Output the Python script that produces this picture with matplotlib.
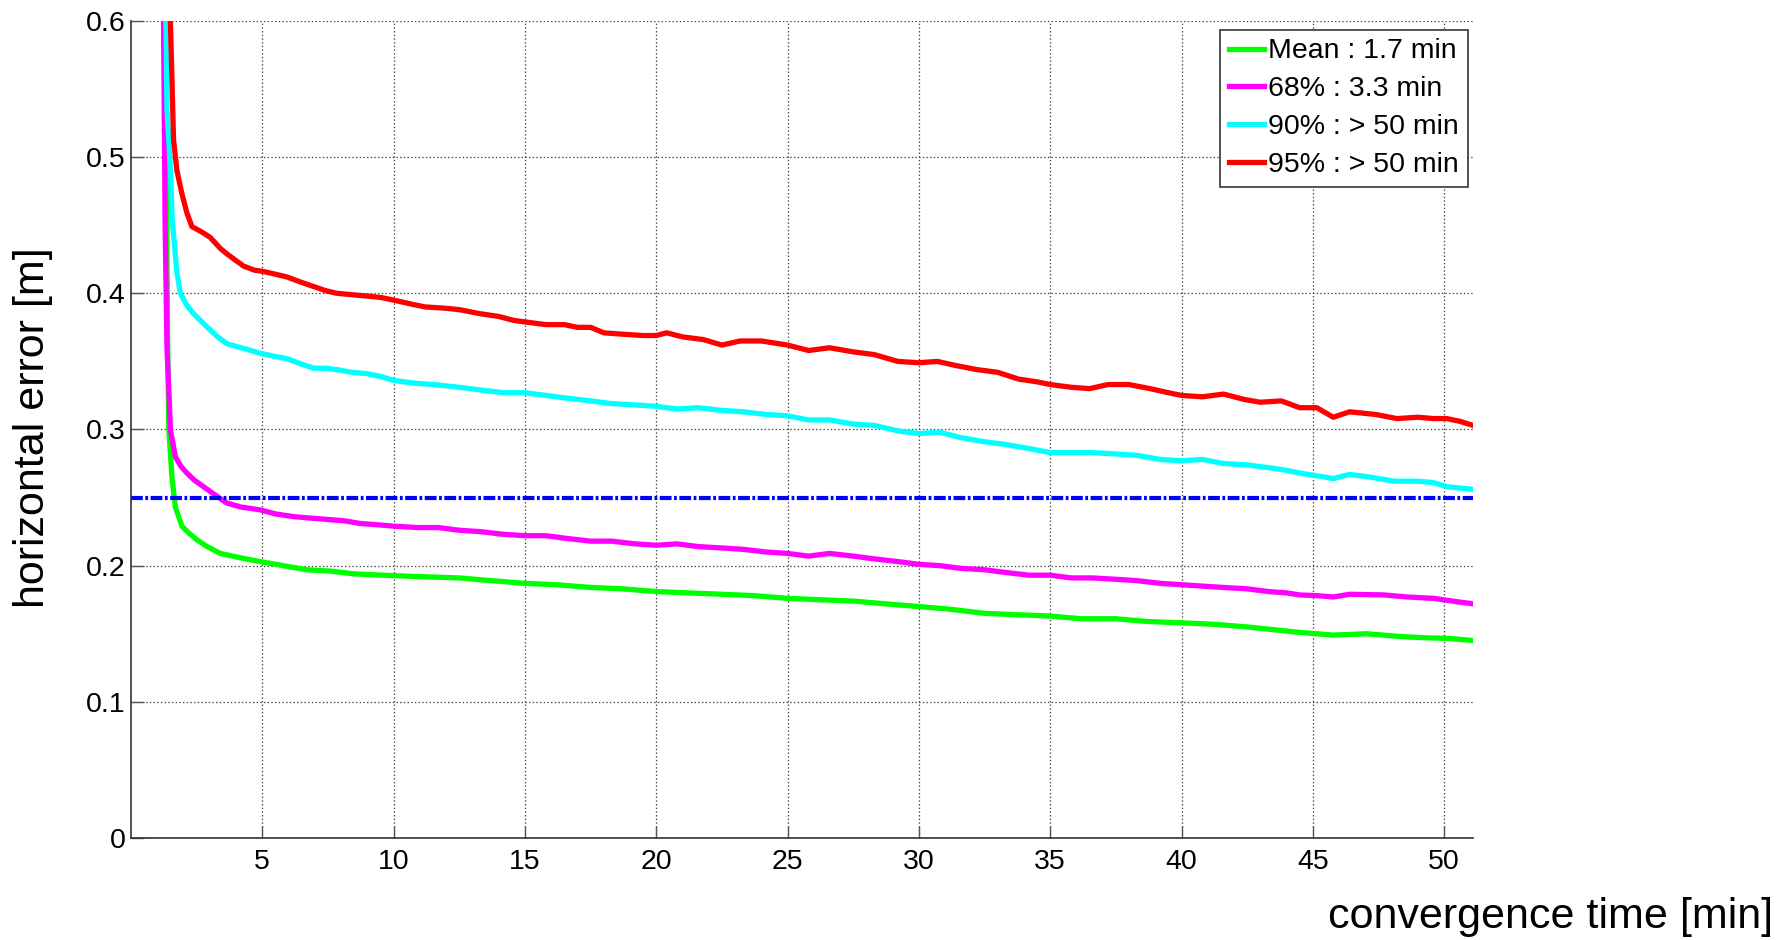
import numpy as np
import matplotlib
matplotlib.use("Agg")
import matplotlib.pyplot as plt

plt.rcParams['font.family'] = ['Liberation Sans', 'DejaVu Sans']
plt.rcParams['lines.scale_dashes'] = False

# convergence curves, horizontal error [m] vs time [min]
t_red = [1.40, 1.50, 1.62, 1.75, 1.94, 2.13, 2.32, 2.7, 3.02, 3.4, 3.65, 4.0, 4.29, 4.7, 5.05, 5.5,
         5.94, 6.5, 6.95, 7.4, 7.84, 8.4, 8.98, 9.5, 10.0, 10.7, 11.2, 12.0, 12.5, 13.3, 14.0, 14.6,
         15.0, 15.8, 16.5, 17.0, 17.5, 18.0, 18.7, 19.5, 20.0, 20.4, 21.0, 21.8, 22.5, 23.2, 24.0,
         25.0, 25.8, 26.6, 27.5, 28.3, 29.2, 30.0, 30.7, 31.4, 32.2, 33.0, 33.8, 34.5, 35.0, 35.8,
         36.5, 37.2, 38.0, 38.8, 39.5, 40.0, 40.8, 41.6, 42.4, 43.0, 43.8, 44.5, 45.15, 45.78, 46.4,
         47.4, 48.2, 49.0, 49.6, 50.1, 50.6, 51.1]
e_red = [0.72, 0.60, 0.513, 0.49, 0.473, 0.459, 0.449, 0.445, 0.441, 0.433, 0.429, 0.424, 0.420,
         0.417, 0.416, 0.414, 0.412, 0.408, 0.405, 0.402, 0.400, 0.399, 0.398, 0.397, 0.395, 0.392,
         0.390, 0.389, 0.388, 0.385, 0.383, 0.380, 0.379, 0.377, 0.377, 0.375, 0.375, 0.371, 0.370,
         0.369, 0.369, 0.371, 0.368, 0.366, 0.362, 0.365, 0.365, 0.362, 0.358, 0.360, 0.357, 0.355,
         0.350, 0.349, 0.350, 0.347, 0.344, 0.342, 0.337, 0.335, 0.333, 0.331, 0.330, 0.333, 0.333,
         0.330, 0.327, 0.325, 0.324, 0.326, 0.322, 0.320, 0.321, 0.316, 0.316, 0.309, 0.313, 0.311,
         0.308, 0.309, 0.308, 0.308, 0.306, 0.303]

t_cyan = [1.30, 1.37, 1.50, 1.56, 1.75, 1.88, 2.1, 2.38, 2.7, 3.02, 3.3, 3.65, 4.2, 4.92, 5.4, 5.94,
          6.5, 6.95, 7.4, 7.84, 8.4, 8.98, 9.5, 10.0, 10.8, 11.5, 12.5, 13.3, 14.2, 15.0, 15.8, 16.6,
          17.5, 18.3, 19.2, 20.0, 20.8, 21.6, 22.5, 23.3, 24.2, 25.0, 25.8, 26.6, 27.5, 28.3, 29.2,
          30.0, 30.8, 31.6, 32.5, 33.3, 34.2, 35.0, 35.8, 36.6, 37.5, 38.3, 39.2, 40.0, 40.8, 41.6,
          42.5, 43.3, 44.0, 44.5, 45.15, 45.78, 46.4, 47.2, 48.1, 49.0, 49.6, 50.1, 51.1]
e_cyan = [0.65, 0.535, 0.493, 0.457, 0.415, 0.400, 0.392, 0.385, 0.379, 0.373, 0.368, 0.363, 0.360,
          0.356, 0.354, 0.352, 0.348, 0.345, 0.345, 0.344, 0.342, 0.341, 0.339, 0.336, 0.334, 0.333,
          0.331, 0.329, 0.327, 0.327, 0.325, 0.323, 0.321, 0.319, 0.318, 0.317, 0.315, 0.316, 0.314,
          0.313, 0.311, 0.310, 0.307, 0.307, 0.304, 0.303, 0.299, 0.297, 0.298, 0.294, 0.291, 0.289,
          0.286, 0.283, 0.283, 0.283, 0.282, 0.281, 0.278, 0.277, 0.278, 0.275, 0.274, 0.272, 0.270,
          0.268, 0.266, 0.264, 0.267, 0.265, 0.262, 0.262, 0.261, 0.258, 0.256]

t_mag = [1.20, 1.24, 1.30, 1.37, 1.46, 1.50, 1.69, 1.9, 2.13, 2.4, 2.76, 3.2, 3.65, 4.2, 4.92, 5.5,
         6.19, 6.8, 7.46, 8.1, 8.73, 9.4, 10.0, 10.9, 11.7, 12.5, 13.3, 14.2, 15.0, 15.8, 16.6, 17.5,
         18.3, 19.2, 20.0, 20.8, 21.6, 22.5, 23.3, 24.2, 25.0, 25.8, 26.6, 27.5, 28.3, 29.2, 30.0,
         30.8, 31.6, 32.5, 33.3, 34.2, 35.0, 35.8, 36.6, 37.5, 38.3, 39.2, 40.0, 40.8, 41.6, 42.5,
         43.3, 44.0, 44.5, 45.15, 45.78, 46.4, 47.7, 48.6, 49.6, 50.5, 51.1]
e_mag = [0.70, 0.60, 0.45, 0.36, 0.32, 0.300, 0.280, 0.273, 0.268, 0.263, 0.258, 0.252, 0.246, 0.243,
         0.241, 0.238, 0.236, 0.235, 0.234, 0.233, 0.231, 0.230, 0.229, 0.228, 0.228, 0.226, 0.225,
         0.223, 0.222, 0.222, 0.220, 0.218, 0.218, 0.216, 0.215, 0.216, 0.214, 0.213, 0.212, 0.210,
         0.209, 0.207, 0.209, 0.207, 0.205, 0.203, 0.201, 0.200, 0.198, 0.197, 0.195, 0.193, 0.193,
         0.191, 0.191, 0.190, 0.189, 0.187, 0.186, 0.185, 0.184, 0.183, 0.181, 0.180, 0.1785, 0.178,
         0.177, 0.179, 0.1785, 0.177, 0.176, 0.1735, 0.172]

t_mean = [1.25, 1.30, 1.36, 1.40, 1.44, 1.56, 1.69, 1.94, 2.2, 2.51, 2.9, 3.40, 4.1, 4.92, 5.8, 6.70,
          7.6, 8.48, 9.6, 10.9, 12.5, 13.7, 15.0, 16.2, 17.5, 18.7, 20.0, 21.2, 22.5, 23.7, 25.0,
          26.2, 27.5, 28.7, 30.0, 31.2, 32.5, 33.7, 35.0, 36.2, 37.5, 38.7, 40.0, 41.2, 42.5, 43.5,
          44.5, 45.15, 45.78, 47.05, 48.3, 49.3, 50.2, 51.1]
e_mean = [0.70, 0.60, 0.45, 0.36, 0.300, 0.265, 0.243, 0.229, 0.224, 0.219, 0.214, 0.209, 0.206,
          0.203, 0.200, 0.197, 0.196, 0.194, 0.193, 0.192, 0.191, 0.189, 0.187, 0.186, 0.184, 0.183,
          0.181, 0.180, 0.179, 0.178, 0.176, 0.175, 0.174, 0.172, 0.170, 0.168, 0.165, 0.164, 0.163,
          0.161, 0.161, 0.159, 0.158, 0.157, 0.155, 0.153, 0.151, 0.150, 0.149, 0.150, 0.148, 0.147,
          0.1466, 0.145]

labels = ['Mean : 1.7 min', '68% : 3.3 min', '90% : > 50 min', '95% : > 50 min']
threshold = 0.25

fig = plt.figure(figsize=(17.87, 9.40), dpi=100)
ax = fig.add_axes([0.0733, 0.1085, 0.7510, 0.8692])

lw = 3.8
ax.plot(t_mean, e_mean, color='#00ff00', lw=lw, label=labels[0])
ax.plot(t_mag, e_mag, color='#ff00ff', lw=lw, label=labels[1])
ax.plot(t_cyan, e_cyan, color='#00ffff', lw=lw, label=labels[2])
ax.plot(t_red, e_red, color='#ff0000', lw=lw, label=labels[3])
ax.axhline(threshold, color='#0000ff', lw=3.0, dashes=(8.5, 1.8, 2.0, 1.8))

ax.set_xlim(0, 51.1)
ax.set_ylim(0, 0.6)
ax.set_xticks(np.arange(5, 51, 5))
ax.set_yticks([0, 0.1, 0.2, 0.3, 0.4, 0.5, 0.6])
ax.set_yticklabels(['0', '0.1', '0.2', '0.3', '0.4', '0.5', '0.6'])
ax.grid(True, linestyle=':', color='#404040', lw=0.9)
ax.tick_params(direction='in', length=9, width=1.0, color='#555555', labelsize=20.5)
ax.tick_params(axis='x', pad=8)
ax.tick_params(axis='y', pad=4)
for s in ['top', 'right']:
    ax.spines[s].set_visible(False)
for s in ['left', 'bottom']:
    ax.spines[s].set_color('#333333')
    ax.spines[s].set_linewidth(1.2)

leg = ax.legend(loc='upper right', bbox_to_anchor=(0.996, 0.989), fontsize=20.5, handlelength=1.25,
                handletextpad=0.15, borderpad=0.3, labelspacing=0.42, borderaxespad=0,
                fancybox=False, framealpha=1, edgecolor='#444444')
leg.get_frame().set_linewidth(1.3)

fig.text(0.9925, 0.024, 'convergence time [min]', ha='right', va='center', fontsize=31)
fig.text(0.0185, 0.545, 'horizontal error [m]', ha='center', va='center', rotation=90, fontsize=31)

fig.savefig('out.png', dpi=100)
